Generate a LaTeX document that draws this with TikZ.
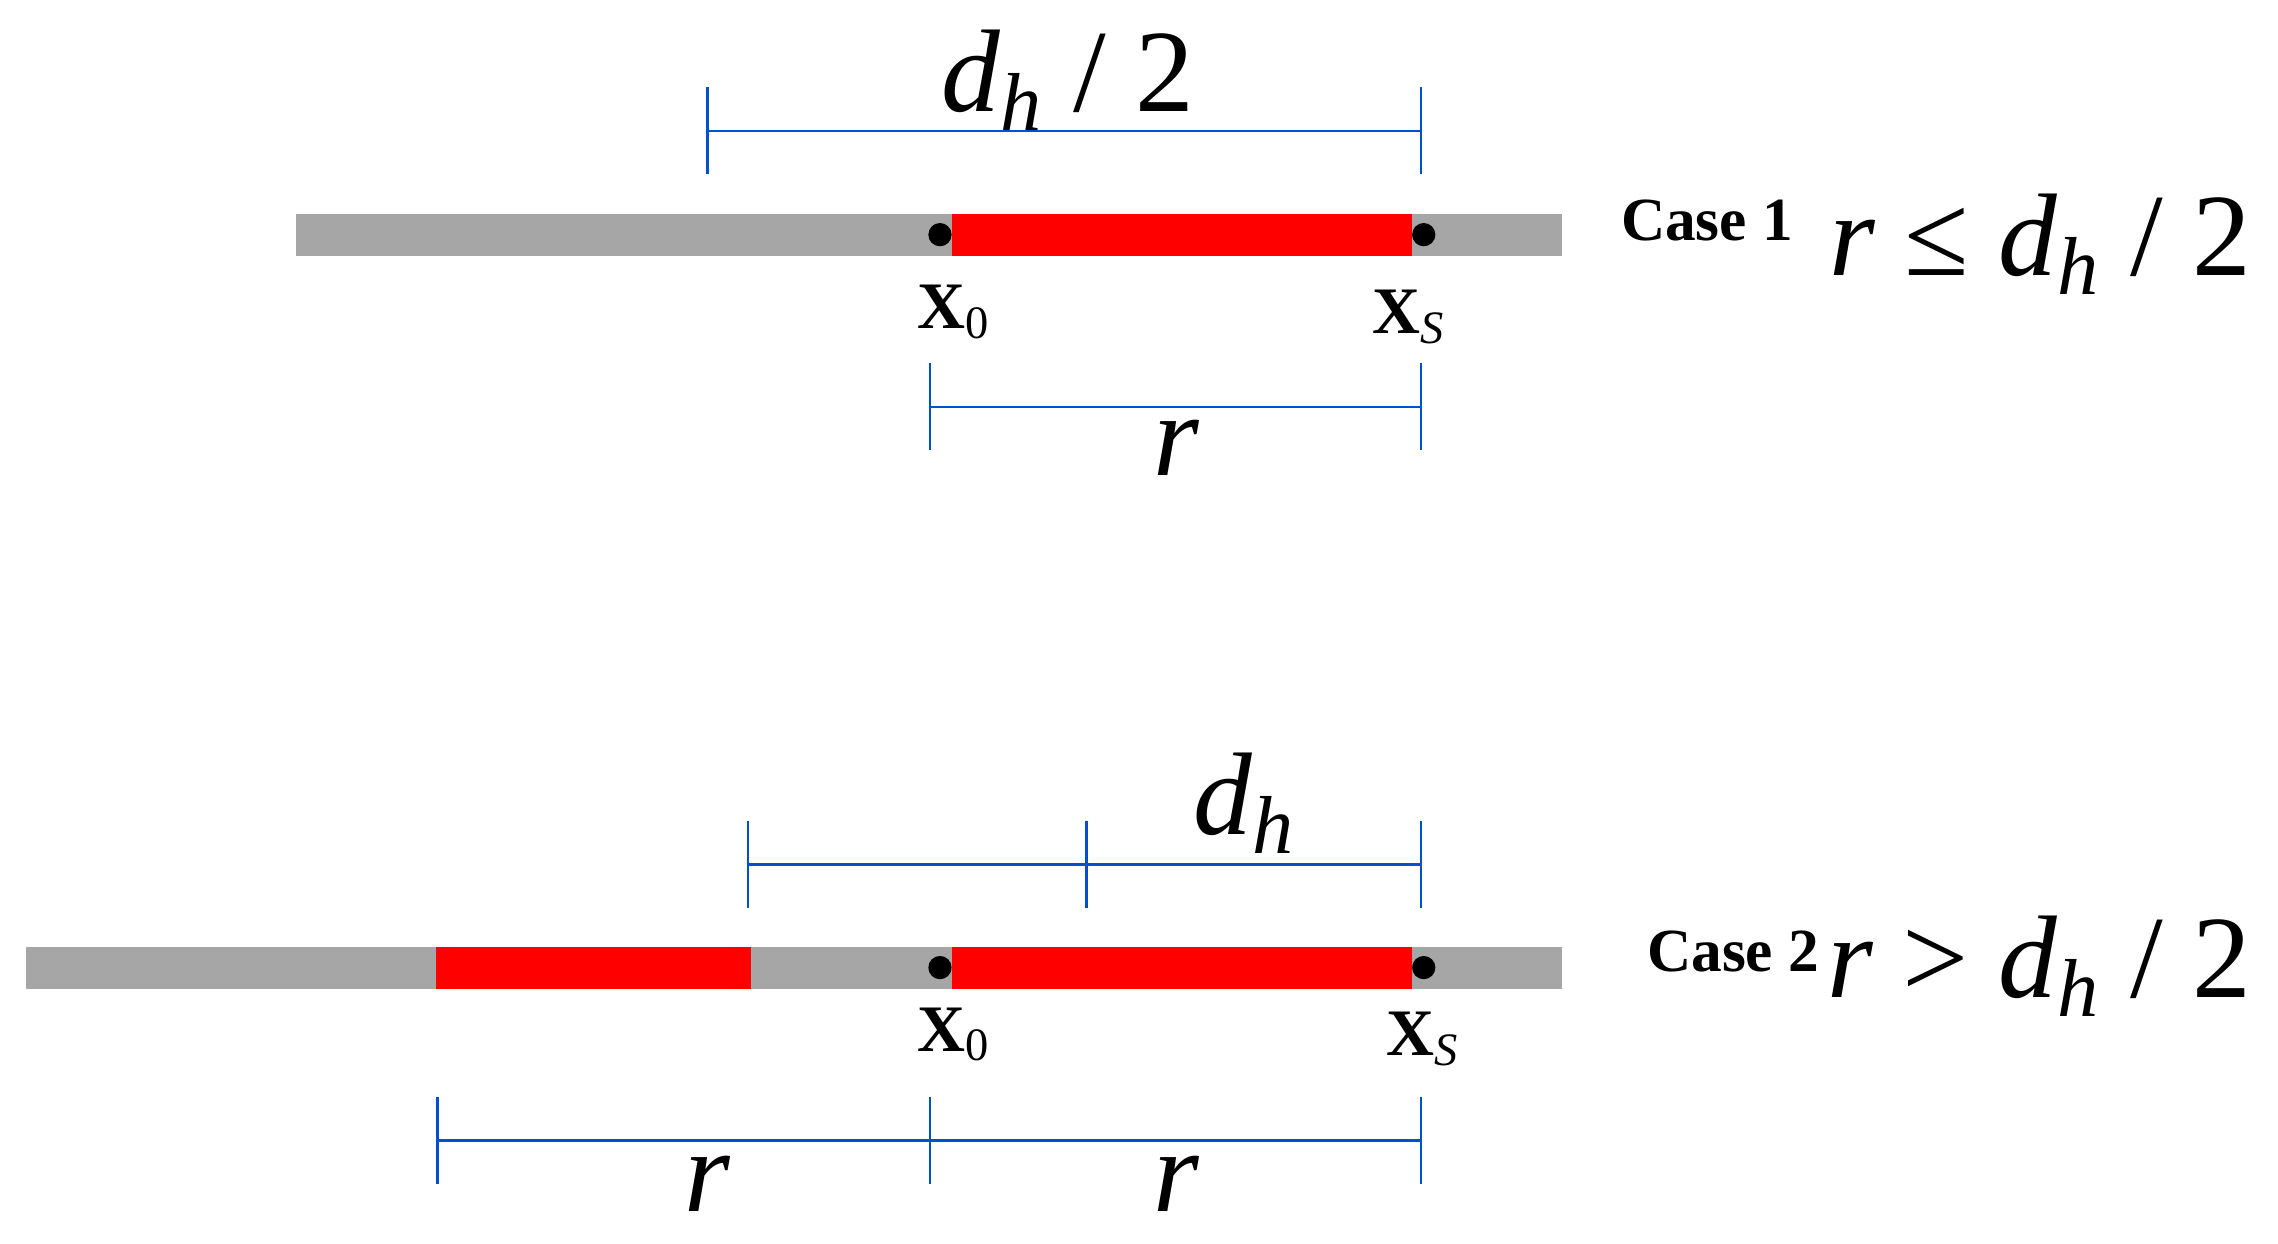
\documentclass[tikz,border=0pt]{standalone}
\usepackage{fontspec}
\setmainfont{Liberation Serif}
\newcommand{\dhh}{\textit{d}\textsubscript{\textit{h}}}
\begin{document}
\begin{tikzpicture}[x=0.01cm,y=-0.01cm,
 gbar/.style={fill=gray!70,draw=none},
 rbar/.style={fill=red,draw=none},
 dim/.style={draw=blue!60!cyan!80!black,line width=0.5pt},
 dot/.style={circle,fill=black,inner sep=0pt,minimum size=0.16cm},
 big/.style={font=\fontsize{23}{26}\selectfont},
 pt/.style={font=\fontsize{13}{15}\selectfont\bfseries},
 cs/.style={font=\fontsize{12}{14}\selectfont\bfseries}]
\useasboundingbox (0,0) rectangle (1568,856);
% Case 1
\fill[gbar] (204,147) rectangle (1075,176);
\fill[rbar] (655,147) rectangle (972,176);
\node[dot] (a0) at (647,161.5) {};
\node[dot] (as) at (980,161.5) {};
\coordinate (t1) at (487,90); \coordinate (t2) at (978,90);
\draw[dim] (t1) -- (t2) (487,60) -- (487,120) (978,60) -- (978,120);
\node[big] (l1) at (735,55) {\dhh\ / 2};
\node[pt] (x01) at (657,215) {X\textsubscript{\normalfont 0}};
\node[pt] (xs1) at (970,218) {X\textsubscript{\normalfont\itshape S}};
\draw[dim] (640,280) -- (978,280) (640,250) -- (640,310) (978,250) -- (978,310);
\node[big] (r1) at (810,308) {\textit{r}};
\node[cs] (c1) at (1175,152) {Case 1};
\node[big,anchor=east] (e1) at (1562,168) {\textit{r} ≤ \dhh\ / 2};
% Case 2
\fill[gbar] (18,652) rectangle (1075,681);
\fill[rbar] (300,652) rectangle (517,681);
\fill[rbar] (655,652) rectangle (972,681);
\node[dot] (b0) at (647,666) {};
\node[dot] (bs) at (980,666) {};
\draw[dim] (515,595) -- (978,595) (515,565) -- (515,625) (748,565) -- (748,625) (978,565) -- (978,625);
\node[big] (l2) at (857,553) {\dhh};
\node[pt] (x02) at (657,712) {X\textsubscript{\normalfont 0}};
\node[pt] (xs2) at (980,715) {X\textsubscript{\normalfont\itshape S}};
\draw[dim] (301,785) -- (978,785) (301,755) -- (301,815) (640,755) -- (640,815) (978,755) -- (978,815);
\node[big] (r2) at (487,815) {\textit{r}};
\node[big] (r3) at (810,815) {\textit{r}};
\node[cs] (c2) at (1193,655) {Case 2};
\node[big,anchor=east] (e2) at (1562,665) {\textit{r} > \dhh\ / 2};
\end{tikzpicture}
\end{document}
